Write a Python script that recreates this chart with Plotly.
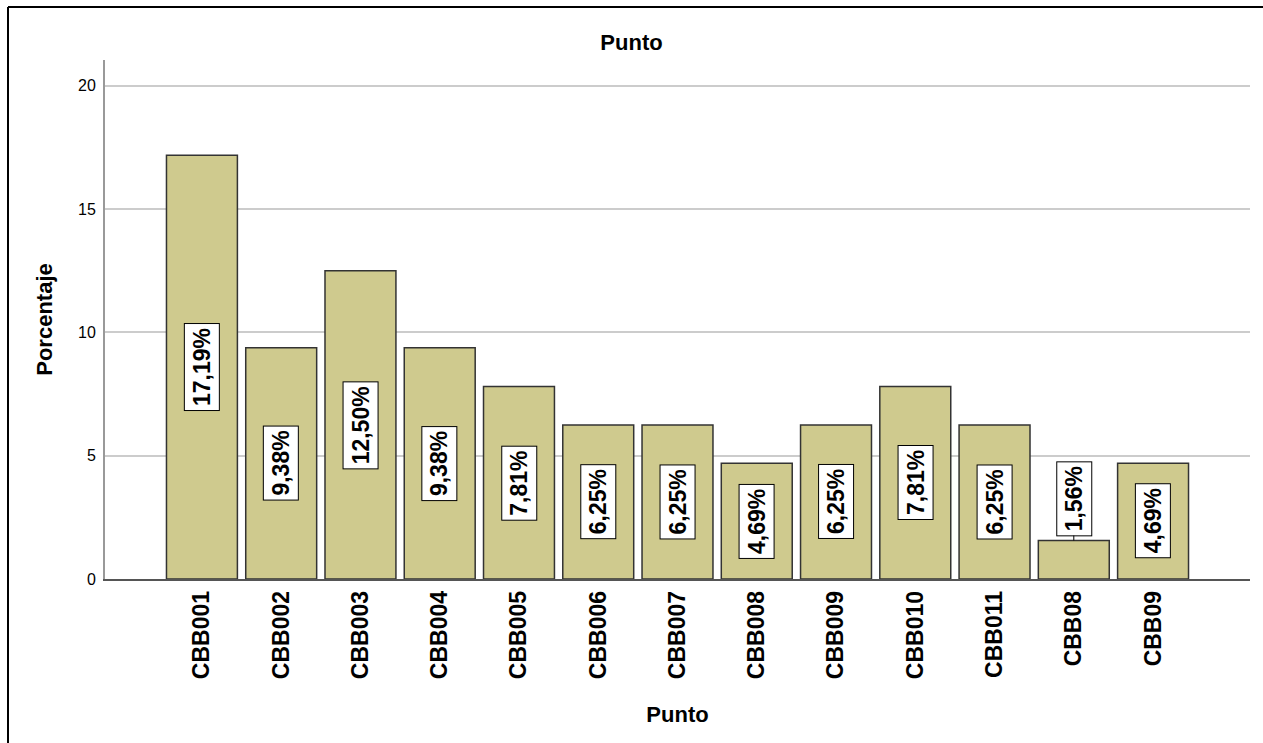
import plotly.graph_objects as go

# Category labels and percentage values
puntos = ["CBB001", "CBB002", "CBB003", "CBB004", "CBB005", "CBB006", "CBB007",
          "CBB008", "CBB009", "CBB010", "CBB011", "CBB08", "CBB09"]
porcentajes = [17.19, 9.38, 12.50, 9.38, 7.81, 6.25, 6.25,
               4.69, 6.25, 7.81, 6.25, 1.56, 4.69]
y_ticks = [0, 5, 10, 15, 20]

FONT = "Arial, Liberation Sans, sans-serif"
BAR_FILL = "#cfca8e"
BAR_EDGE = "#333333"

fig = go.Figure()
fig.add_trace(go.Bar(
    x=list(range(len(puntos))),
    y=porcentajes,
    width=0.895,
    marker=dict(color=BAR_FILL, line=dict(color=BAR_EDGE, width=1.5)),
    hoverinfo="skip",
))

# Value labels: white boxed, rotated text centred in each bar;
# short bars get the label above with a small leader line.
annotations = []
for i, v in enumerate(porcentajes):
    txt = f"{v:.2f}%".replace(".", ",")
    common = dict(
        x=i, xref="x", yref="y", text=f"<b>{txt}</b>", textangle=-90,
        font=dict(family=FONT, size=23, color="black"),
        bgcolor="white", bordercolor="black", borderwidth=1, borderpad=4,
    )
    if v < 3.6:
        annotations.append(dict(common, y=v, showarrow=True, arrowhead=0,
                                arrowwidth=1, arrowcolor="black",
                                ax=0, ay=-42, standoff=0))
    else:
        annotations.append(dict(common, y=v / 2, showarrow=False,
                                yanchor="middle", xanchor="center"))

fig.update_layout(
    width=1263, height=743,
    margin=dict(l=105, r=13, t=60, b=164, autoexpand=False),
    paper_bgcolor="white", plot_bgcolor="white",
    showlegend=False,
    bargap=0.105,
    font=dict(family=FONT, color="black"),
    title=dict(text="<b>Punto</b>", x=0.5, xanchor="center", y=1 - 42 / 743,
               yanchor="middle", font=dict(family=FONT, size=22, color="black")),
    annotations=annotations,
    shapes=[
        dict(type="line", xref="paper", yref="paper", x0=-97 / 1145, x1=1.2,
             y0=(579 - 7) / 519, y1=(579 - 7) / 519,
             line=dict(color="black", width=2)),
        dict(type="line", xref="paper", yref="paper", x0=-97 / 1145, x1=-97 / 1145,
             y0=(579 - 7) / 519, y1=-0.5, line=dict(color="black", width=2)),
    ],
)

fig.update_xaxes(
    range=[-1.223, 13.223],
    tickmode="array", tickvals=list(range(len(puntos))), ticktext=[f"<b>{p}</b>" for p in puntos],
    tickangle=-90, tickfont=dict(family=FONT, size=23, color="black"),
    ticks="", ticklabelstandoff=1,
    showgrid=False, zeroline=False,
    showline=True, linecolor="#555555", linewidth=1.5,
    title=dict(text="<b>Punto</b>", font=dict(family=FONT, size=22, color="black"), standoff=28),
    automargin=False,
)

fig.update_yaxes(
    range=[0, 21.05],
    tickmode="array", tickvals=y_ticks,
    tickfont=dict(family=FONT, size=16, color="black"),
    ticks="", ticklabelstandoff=4,
    showgrid=True, gridcolor="#cccccc", gridwidth=2,
    zeroline=False,
    showline=True, linecolor="#999999", linewidth=2,
    title=dict(text="<b>Porcentaje</b>", font=dict(family=FONT, size=22, color="black"), standoff=19),
    automargin=False,
)

fig.write_html("out.html")
